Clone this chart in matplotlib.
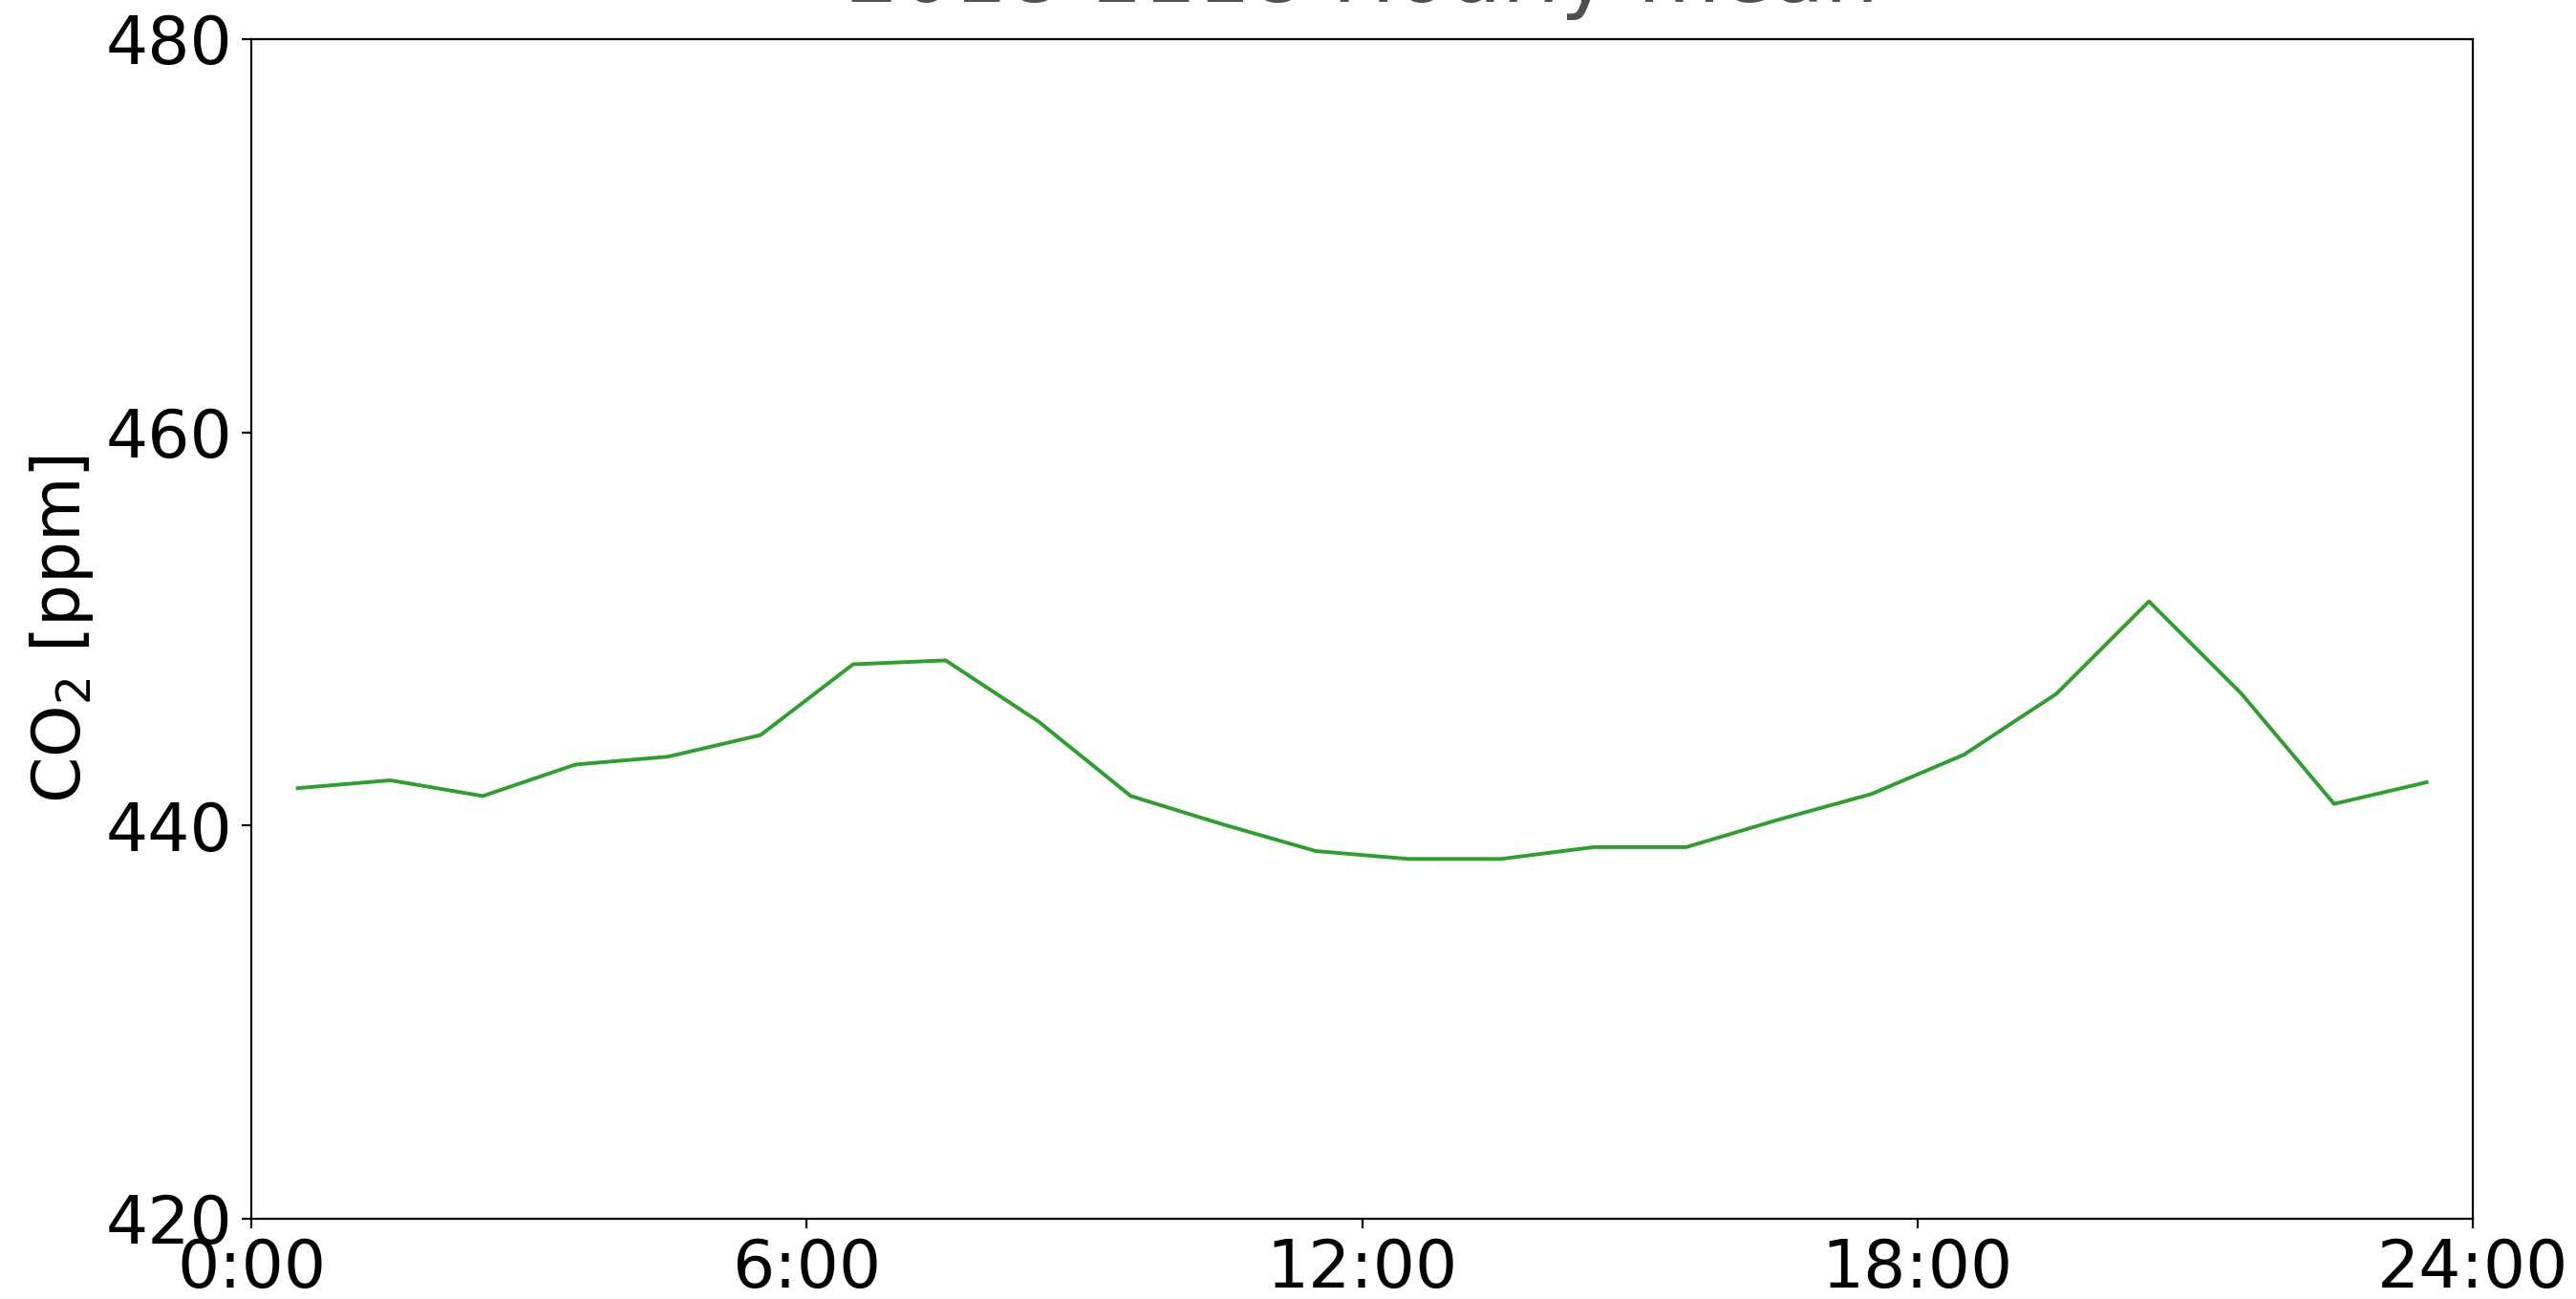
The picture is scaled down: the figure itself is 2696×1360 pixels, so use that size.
import matplotlib
matplotlib.use("Agg")
import matplotlib.pyplot as plt

hours = [h + 0.5 for h in range(24)]
co2 = [441.9, 442.3, 441.5, 443.1, 443.5, 444.6, 448.2, 448.4, 445.3, 441.5,
       440.05, 438.7, 438.3, 438.3, 438.9, 438.9, 440.3, 441.6, 443.6, 446.7,
       451.4, 446.7, 441.1, 442.2]
xticks = [0, 6, 12, 18, 24]
xticklabels = ["0:00", "6:00", "12:00", "18:00", "24:00"]
yticks = [420, 440, 460, 480]
title = "2018 1118 Hourly mean"

fig = plt.figure(figsize=(13.48, 6.8), dpi=200)
ax = fig.add_axes([0.0976, 0.0618, 0.8624, 0.9081])
ax.plot(hours, co2, color="#2ca02c", lw=1.4)
ax.set_xlim(0, 24)
ax.set_ylim(420, 480)
ax.set_xticks(xticks)
ax.set_xticklabels(xticklabels)
ax.set_yticks(yticks)
ax.tick_params(labelsize=25)
ax.set_ylabel("CO$_2$ [ppm]", fontsize=25)
ax.set_title(title, fontsize=32, color="#505050", pad=14)
fig.savefig("out.png", dpi=200)
